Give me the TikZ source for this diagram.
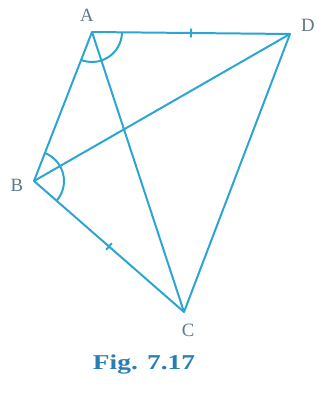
\documentclass[tikz,border=0pt]{standalone}
\usepackage{fontspec}
\setmainfont{Liberation Serif}
\newfontfamily\captfont[FakeStretch=1.3]{Liberation Serif}
\usetikzlibrary{calc}
\definecolor{figblue}{RGB}{45,165,210}
\definecolor{labgray}{RGB}{95,120,135}
\definecolor{captblue}{RGB}{40,125,180}
\tikzset{
  edge/.style={figblue, line width=1.7pt, line join=round},
  vlabel/.style={labgray, font=\fontsize{16}{19}\selectfont, inner sep=0pt}
}
\begin{document}
\begin{tikzpicture}[x=0.03cm, y=0.03cm]
            \useasboundingbox (0,0) rectangle (331,-396);
            \coordinate (A) at (92,-32);
            \coordinate (D) at (290,-34);
            \coordinate (B) at (34,-181);
            \coordinate (C) at (184,-312);
            \coordinate (mAD) at ($(A)!0.5!(D)$);
            \coordinate (mBC) at ($(B)!0.5!(C)$);
            % sides and diagonals
            \draw[edge] (A) -- (D) -- (C) -- (B) -- cycle;
            \draw[edge] (A) -- (C);
            \draw[edge] (B) -- (D);
            % equal angles
            \draw[edge] ($(A)!0.9cm!(D)$) arc (-0.6:-111.3:0.9cm);
            \draw[edge] ($(B)!0.9cm!(C)$) arc (-41.1:68.7:0.9cm);
            % equal sides
            \draw[edge] ($(mAD)!0.13cm!90:(D)$) -- ($(mAD)!0.13cm!-90:(D)$);
            \draw[edge] ($(mBC)!0.13cm!90:(C)$) -- ($(mBC)!0.13cm!-90:(C)$);
            \node[vlabel] (lA) at (87,-15) {A};
            \node[vlabel] (lD) at (308,-25) {D};
            \node[vlabel] (lB) at (17,-185) {B};
            \node[vlabel] (lC) at (188,-330) {C};
            \node[captblue, font=\fontsize{18}{21}\captfont\bfseries, inner sep=0pt] (cap) at (144,-365) {Fig. 7.17};
\end{tikzpicture}
\end{document}
